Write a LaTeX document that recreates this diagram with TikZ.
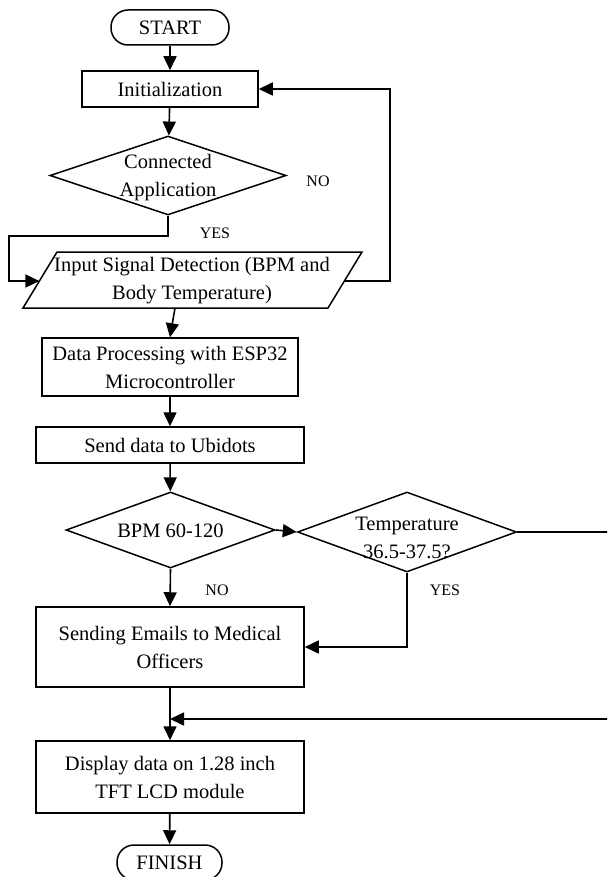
\documentclass[tikz,border=0pt]{standalone}
\usepackage{fontspec}
\setmainfont{Liberation Serif}
\usetikzlibrary{arrows.meta,shapes.geometric}
\begin{document}
\begin{tikzpicture}[x=1pt,y=-1pt,
  every node/.style={font=\fontsize{20.5}{28}\selectfont, inner sep=0pt, align=center},
  proc/.style={draw, rectangle, line width=1.5pt},
  term/.style={draw, rectangle, rounded corners=17pt, line width=1.5pt},
  decide/.style={draw, diamond, line width=1.5pt},
  tag/.style={font=\fontsize{16}{18}\selectfont},
  flow/.style={line width=1.6pt, -{Triangle[length=14pt,width=13pt]}},
  link/.style={line width=1.6pt}]
\useasboundingbox (0,0) rectangle (607,877);
\clip (0,0) rectangle (607,877);

% terminals and process boxes
\node[term, minimum width=118pt, minimum height=35pt] (start) at (170,27.5) {START};
\node[proc, minimum width=176pt, minimum height=36pt] (init) at (170,89) {Initialization};

% decision outline, text set on top of it
\node[decide, minimum width=236pt, minimum height=79pt] (conn) at (168,175.5) {};
\node (connT) at (168,178) {Connected\\Application};

% input parallelogram
\coordinate (pTL) at (57,252);
\coordinate (pTR) at (362,252);
\coordinate (pBR) at (328,308);
\coordinate (pBL) at (23,308);
\draw[line width=1.5pt] (pTL) -- (pTR) -- (pBR) -- (pBL) -- cycle;
\node (inp) at (192,281) {Input Signal Detection (BPM and\\Body Temperature)};
\coordinate (pinL) at (39.4,281);
\coordinate (pinR) at (344.4,281);
\coordinate (pout) at (175,308);

\node[proc, minimum width=256pt, minimum height=58pt] (dp) at (170,367) {Data Processing with ESP32\\Microcontroller};
\node[proc, minimum width=268pt, minimum height=36pt] (send) at (170,445) {Send data to Ubidots};

\node[decide, minimum width=209pt, minimum height=76pt] (bpm) at (170.5,530) {};
\node (bpmT) at (170.5,531) {BPM 60-120};
\node[decide, minimum width=219pt, minimum height=80pt] (temp) at (407,532) {};
\node (tempT) at (407,538) {Temperature\\36.5-37.5?};

\node[proc, minimum width=268pt, minimum height=80pt] (emails) at (170,647) {Sending Emails to Medical\\Officers};
\node[proc, minimum width=268pt, minimum height=72pt] (disp) at (170,777) {Display data on 1.28 inch\\TFT LCD module};
\node[term, minimum width=105pt, minimum height=35pt] (finish) at (169.5,862.5) {FINISH};

% helper points for routed connectors
\coordinate (lx) at (9,236);
\coordinate (rx) at (390,281);
\coordinate (edgeA) at (625,532);
\coordinate (edgeB) at (625,719);
\coordinate (merge) at (170,719);

% connectors
\draw[flow] (start) -- (init);
\draw[flow] (init) -- (conn);
\draw[flow] (conn.south) |- (lx) |- (pinL);
\draw[flow] (pinR) -- (rx) |- (init.east);
\draw[flow] (pout) -- (dp.north);
\draw[flow] (dp) -- (send);
\draw[flow] (send) -- (bpm);
\draw[flow] (bpm.east) -- (temp.west);
\draw[flow] (bpm.south) -- (emails.north);
\draw[flow] (temp.south) |- (emails.east);
\draw[link] (temp.east) -- (edgeA) -- (edgeB);
\draw[flow] (edgeB) -- (merge);
\draw[flow] (emails.south) -- (disp.north);
\draw[flow] (disp) -- (finish);

% branch labels
\node[tag] (noA) at (318,181) {NO};
\node[tag] (yesA) at (215,233) {YES};
\node[tag] (noB) at (217,590) {NO};
\node[tag] (yesB) at (445,590) {YES};
\end{tikzpicture}
\end{document}
